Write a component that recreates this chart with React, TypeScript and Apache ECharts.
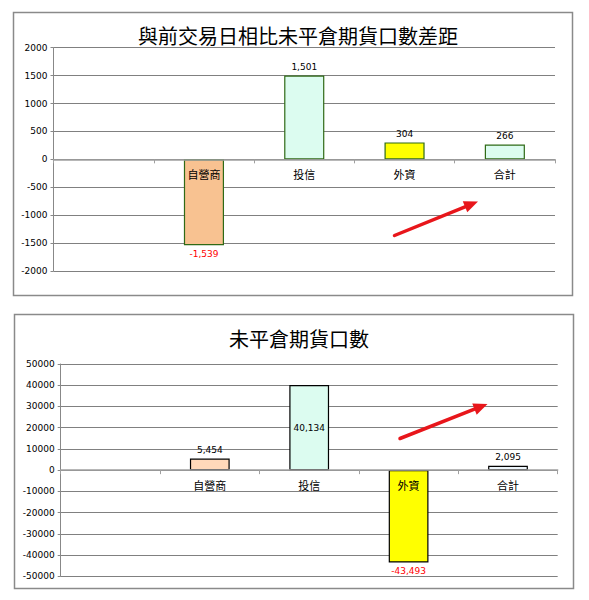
import React, { useEffect, useRef } from "react";
import * as echarts from "echarts";

const categories = ["", "自營商", "投信", "外資", "合計"];
const diffValues = [null, -1539, 1501, 304, 266];
const oiValues = [null, 5454, 40134, -43493, 2095];
const diffColors = ["#ffffff", "#F8C291", "#DCFCF0", "#FFFF00", "#DCFCF0"];
const oiColors = ["#ffffff", "#FFD9BA", "#DCFCF0", "#FFFF00", "#EEF6FC"];
const diffTicks = { min: -2000, max: 2000, interval: 500 };
const oiTicks = { min: -50000, max: 50000, interval: 10000 };
const titles = ["與前交易日相比未平倉期貨口數差距", "未平倉期貨口數"];

const fmt = (v: number) => {
  const s = Math.abs(v).toString().replace(/\B(?=(\d{3})+(?!\d))/g, ",");
  return (v < 0 ? "-" : "") + s;
};

const NUM_FONT = "DejaVu Sans";
const CJK_FONT = "Noto Sans CJK TC";

const GRIDS = [
  { left: 53.5, right: 34, top: 47.7, height: 223.3 },
  { left: 60.7, right: 31.3, top: 364, height: 212.3 },
];

export default function App() {
  const ref = useRef<HTMLDivElement>(null);
  useEffect(() => {
    if (!ref.current) return;
    const chart = echarts.init(ref.current, undefined, { renderer: "svg" });

    const mkData = (vals: (number | null)[], colors: string[], border: string, insideIdx: number) =>
      vals.map((v, i) => {
        if (v === null) return { value: null };
        const neg = v < 0;
        return {
          value: v,
          itemStyle: { color: colors[i], borderColor: border, borderWidth: 1.2 },
          label: {
            show: true,
            position: i === insideIdx ? "inside" : neg ? "bottom" : "top",
            distance: 4,
            color: neg ? "#ff0000" : "#000",
            fontFamily: NUM_FONT,
            fontSize: 9,
            formatter: (p: any) => fmt(p.value),
          },
        };
      });

    const yAxisBase = (gi: number, t: any) => ({
      type: "value",
      gridIndex: gi,
      min: t.min,
      max: t.max,
      interval: t.interval,
      axisLine: { show: true, lineStyle: { color: "#888", width: 1 } },
      axisTick: { show: true, length: 3, lineStyle: { color: "#888" } },
      splitLine: { show: true, lineStyle: { color: "#808080", width: 1 } },
      axisLabel: {
        color: "#000",
        fontFamily: NUM_FONT,
        fontSize: 9,
        margin: 6,
        formatter: (v: number) => String(v),
      },
    });

    // place the category axis at the value 0 of the value axis
    const xAxisBase = (gi: number, t: any) => ({
      type: "category",
      gridIndex: gi,
      data: categories,
      boundaryGap: true,
      position: "bottom",
      offset: -(GRIDS[gi].height * (0 - t.min)) / (t.max - t.min),
      axisLine: { show: true, onZero: false, lineStyle: { color: "#a0a0a0", width: 1.5 } },
      axisTick: { show: true, length: 4, lineStyle: { color: "#a0a0a0" } },
      axisLabel: { color: "#000", fontFamily: CJK_FONT, fontSize: 11, margin: 9 },
      splitLine: { show: false },
      z: 5,
    });

    const arrow = (x1: number, y1: number, x2: number, y2: number) => {
      const dx = x2 - x1;
      const dy = y2 - y1;
      const len = Math.sqrt(dx * dx + dy * dy);
      const ux = dx / len;
      const uy = dy / len;
      const hl = 14;
      const hw = 6;
      const bx = x2 - ux * hl;
      const by = y2 - uy * hl;
      return [
        {
          type: "line",
          shape: { x1, y1, x2: bx + ux * 2, y2: by + uy * 2 },
          style: { stroke: "#e8161b", lineWidth: 3.5, lineCap: "round" },
          z: 100,
        },
        {
          type: "polygon",
          shape: {
            points: [
              [x2, y2],
              [bx - uy * hw, by + ux * hw],
              [bx + uy * hw, by - ux * hw],
            ],
          },
          style: { fill: "#e8161b" },
          z: 100,
        },
      ];
    };

    chart.setOption({
      animation: false,
      backgroundColor: "#fff",
      title: [
        {
          text: titles[0],
          left: 293,
          textAlign: "center",
          top: 20,
          textStyle: { fontFamily: CJK_FONT, fontSize: 20, fontWeight: "normal", color: "#000" },
        },
        {
          text: titles[1],
          left: 294,
          textAlign: "center",
          top: 323,
          textStyle: { fontFamily: CJK_FONT, fontSize: 20, fontWeight: "normal", color: "#000" },
        },
      ],
      grid: GRIDS.map((g) => ({ ...g, containLabel: false })),
      xAxis: [xAxisBase(0, diffTicks), xAxisBase(1, oiTicks)],
      yAxis: [yAxisBase(0, diffTicks), yAxisBase(1, oiTicks)],
      series: [
        {
          type: "bar",
          xAxisIndex: 0,
          yAxisIndex: 0,
          barWidth: "40%",
          z: 2,
          data: mkData(diffValues, diffColors, "#2f6a16", -1),
        },
        {
          type: "bar",
          xAxisIndex: 1,
          yAxisIndex: 1,
          barWidth: "40%",
          z: 2,
          data: mkData(oiValues, oiColors, "#000", 2),
        },
      ],
      graphic: [
        {
          type: "rect",
          shape: { x: 13.5, y: 12.5, width: 559, height: 283 },
          style: { fill: "none", stroke: "#8a8a8a", lineWidth: 1.5 },
          z: -10,
        },
        {
          type: "rect",
          shape: { x: 14.5, y: 314.5, width: 559, height: 274 },
          style: { fill: "none", stroke: "#8a8a8a", lineWidth: 1.5 },
          z: -10,
        },
        ...arrow(394.5, 235.5, 478, 201.5),
        ...arrow(400, 438.5, 487.5, 404),
      ],
    });

    return () => chart.dispose();
  }, []);

  return (
    <div
      ref={ref}
      style={{ position: "fixed", left: 0, top: 0, width: 589, height: 600, background: "#fff" }}
    />
  );
}
